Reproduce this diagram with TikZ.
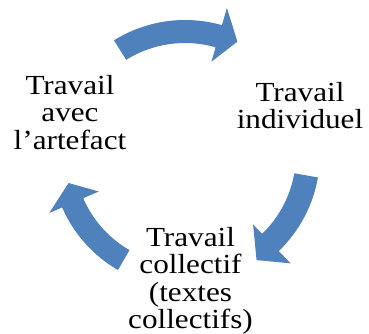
\documentclass[tikz,border=0pt]{standalone}
\usepackage{amssymb,amsmath}
\usepackage{xcolor}
\usepackage{fontspec}
\setmainfont{Liberation Serif}[FakeStretch=1.13]
\usepackage{tikz}

\definecolor{cycleblue}{RGB}{79,129,189}
\tikzset{
  cyclearrow/.style={fill=cycleblue},
  stage/.style={align=center,anchor=north,inner sep=0pt,font=\fontsize{20.7}{20.5}\selectfont}
}

\begin{document}
\begin{tikzpicture}[x=0.75pt,y=0.75pt,yscale=-1,xscale=1]
\useasboundingbox (0,0) rectangle (369,334);

\begin{scope}[shift={(185,154)}]
%Shape: Curved Arrow (top)
\fill[cyclearrow] (-122:134) arc[start angle=-122, end angle=-74, radius=134] -- (-74:152) -- (-65:124) -- (-74:96) -- (-74:111) arc[start angle=-74, end angle=-122, radius=111] -- cycle ;
%Shape: Curved Arrow (right)
\fill[cyclearrow] (10:135) arc[start angle=10, end angle=46, radius=135] -- (46:152) -- (56:128) -- (46:98) -- (46:111) arc[start angle=46, end angle=10, radius=111] -- cycle ;
%Shape: Curved Arrow (left)
\fill[cyclearrow] (-240:134) arc[start angle=-240, end angle=-203.5, radius=134] -- (-203.5:148) -- (-194:120) -- (-203.5:94) -- (-203.5:111) arc[start angle=-203.5, end angle=-240, radius=111] -- cycle ;
\end{scope}

% Text Node
\node[stage] (artefact) at (70,75) {Travail\\avec\\l'artefact};
% Text Node
\node[stage] (individuel) at (300,82) {Travail\\individuel};
% Text Node
\node[stage] (collectif) at (190.5,227) {Travail\\collectif\\(textes\\collectifs)};

\end{tikzpicture}
\end{document}
